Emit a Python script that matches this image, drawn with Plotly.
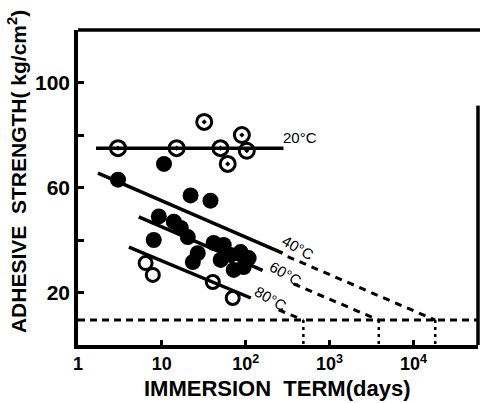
import plotly.graph_objects as go

# ---- data ----
t20_days = [3.0, 15, 32, 50, 61, 90, 103]
t20_str = [75, 75, 85, 75, 69, 80, 74]

t40_days = [3.0, 10.6, 22, 38, 9.2, 13.9]
t40_str = [63, 69, 57, 55, 49, 47]

t60_days = [8.0, 16.8, 20.4, 26.8, 23.4, 41.5, 54.7, 50.3, 66, 87, 94.6, 72, 108.6]
t60_str = [40, 44.6, 41.1, 35, 31.6, 38.9, 38.1, 32.4, 34.3, 35.4, 29.7, 28.6, 33.1]

t80_days = [6.4, 7.8, 40.5, 70]
t80_str = [31.2, 26.7, 24.0, 17.9]

# fitted lines: solid part and dashed extrapolation (days, strength)
fit20_days = [1.64, 282]
fit20_str = [75, 75]

fit40_days = [1.73, 275]
fit40_str = [65.5, 35.0]
ext40_days = [316, 18200]
ext40_str = [33.7, 9.5]

fit60_days = [5.3, 159]
fit60_str = [48.8, 28.4]
ext60_days = [372, 3860]
ext60_str = [23.3, 9.5]

fit80_days = [4.05, 115]
fit80_str = [37.3, 17.9]
ext80_days = [247, 487]
ext80_str = [13.4, 9.5]

limit_days = [1, 59000]
limit_str = [9.5, 9.5]
cross_days = [487, 3860, 18200]

x_tickvals = [1, 10, 100, 1000, 10000]
x_ticktext = ["1", "10", "10<sup>2</sup>", "10<sup>3</sup>", "10<sup>4</sup>"]
y_tickvals = [20, 40, 60, 80, 100]
y_ticktext = ["20", "", "60", "", "100"]

FONT = "Liberation Sans"
K = "black"

fig = go.Figure()

def line(xs, ys, dash="solid", width=3.5):
    fig.add_trace(go.Scatter(x=xs, y=ys, mode="lines",
                             line=dict(color=K, width=width, dash=dash),
                             showlegend=False, hoverinfo="skip"))

line(fit20_days, fit20_str)
line(fit40_days, fit40_str)
line(fit60_days, fit60_str)
line(fit80_days, fit80_str)
line(ext40_days, ext40_str, dash="7px,6px", width=3)
line(ext60_days, ext60_str, dash="7px,6px", width=3)
line(ext80_days, ext80_str, dash="7px,6px", width=3)
line(limit_days, limit_str, dash="7px,5px", width=3)
for d in cross_days:
    line([d, d], [limit_str[0], 0], dash="3px,4px", width=2.5)

fig.add_trace(go.Scatter(x=t20_days, y=t20_str, mode="markers",
                         marker=dict(symbol="circle-open-dot", size=15, color=K,
                                     line=dict(color=K, width=3)),
                         showlegend=False))
fig.add_trace(go.Scatter(x=t40_days + t60_days, y=t40_str + t60_str, mode="markers",
                         marker=dict(symbol="circle", size=16, color=K),
                         showlegend=False))
fig.add_trace(go.Scatter(x=t80_days, y=t80_str, mode="markers",
                         marker=dict(symbol="circle-open", size=13, color=K,
                                     line=dict(color=K, width=3)),
                         showlegend=False))

labels = [
    (2.417, 78.9, "20°C", 0, "left"),
    (2.619, 37.0, "40°C", 30, "center"),
    (2.476, 27.4, "60°C", 30, "center"),
    (2.298, 17.9, "80°C", 30, "center"),
]
for x, y, t, ang, anc in labels:
    fig.add_annotation(x=x, y=y, xref="x", yref="y", text=t, showarrow=False,
                       textangle=ang, xanchor=anc, yanchor="middle",
                       font=dict(family=FONT, size=15, color=K))

fig.add_annotation(x=0.4975, y=-0.137, xref="paper", yref="paper",
                   text="IMMERSION\u00a0\u00a0TERM(days)", showarrow=False,
                   xanchor="center", yanchor="middle",
                   font=dict(family=FONT, size=22, color=K, weight="bold"))
fig.add_annotation(x=-0.1525, y=0.549, xref="paper", yref="paper",
                   text="ADHESIVE\u00a0\u00a0STRENGTH(\u00a0kg/cm<sup>2</sup>)", showarrow=False,
                   textangle=-90, xanchor="center", yanchor="middle",
                   font=dict(family=FONT, size=21, color=K, weight="bold"))

# right border (partially visible in the scan)
fig.add_shape(type="line", xref="paper", yref="paper", x0=1, x1=1, y0=0, y1=0.76,
              line=dict(color=K, width=3.5))
fig.add_shape(type="line", xref="paper", yref="paper", x0=0, x1=1.005, y0=1, y1=1,
              line=dict(color=K, width=3.5))

fig.update_xaxes(type="log", range=[0, 4.77], tickvals=x_tickvals, ticktext=x_ticktext,
                 ticks="inside", ticklen=5, tickwidth=3, tickcolor=K,
                 showline=True, linewidth=3.5, linecolor=K, mirror=False,
                 showgrid=False, zeroline=False, automargin=False,
                 tickfont=dict(family=FONT, size=18, color=K, weight="bold"))
fig.update_yaxes(range=[0, 120], tickvals=y_tickvals, ticktext=y_ticktext,
                 ticks="inside", ticklen=6, tickwidth=3, tickcolor=K,
                 showline=True, linewidth=3.5, linecolor=K,
                 showgrid=False, zeroline=False, ticklabelstandoff=0, automargin=False,
                 tickfont=dict(family=FONT, size=21, color=K, weight="bold"))

fig.update_layout(width=480, height=403,
                  margin=dict(l=78, r=2, t=30, b=58, autoexpand=False),
                  plot_bgcolor="white", paper_bgcolor="white", showlegend=False)

fig.write_html("out.html", config={"displayModeBar": False},
               post_script="document.body.style.margin='0';document.body.style.overflow='hidden';")
